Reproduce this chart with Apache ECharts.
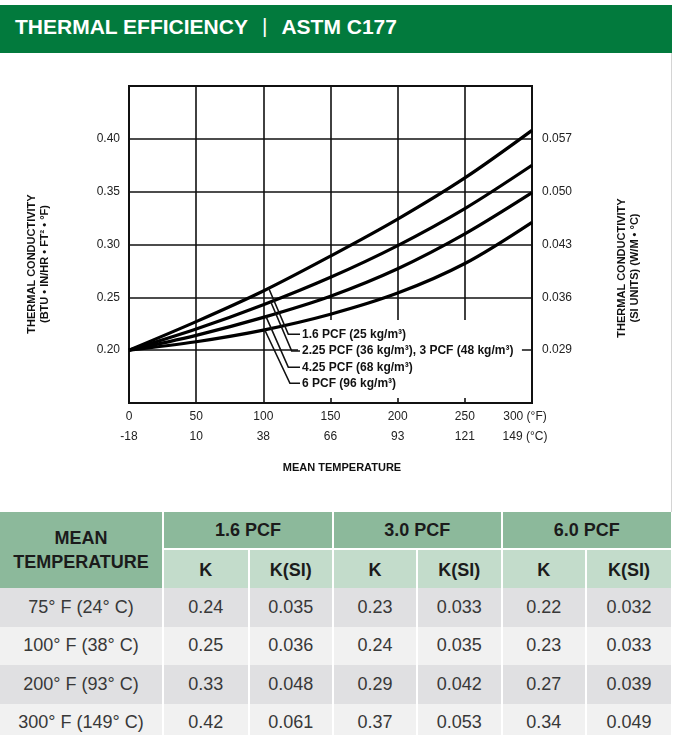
<!DOCTYPE html>
<html>
<head>
<meta charset="utf-8">
<script src="https://cdn.jsdelivr.net/npm/echarts@6/dist/echarts.min.js"></script>
<style>
  html, body { margin:0; padding:0; background:#fff; }
  body { width:678px; height:735px; position:relative; overflow:hidden; font-family:"Liberation Sans", Arial, sans-serif; }
  #chart { position:absolute; left:0; top:0; width:678px; height:510px; }
  #band { position:absolute; left:0; top:5px; width:672px; height:48px; background:#027a3d; }
  #title { position:absolute; left:15px; top:5px; height:44px; line-height:44px; color:#fff; font-size:21px; font-weight:bold; white-space:nowrap; }
  #title .bar { font-weight:normal; margin:0 14px; position:relative; top:-1px; }
  #edge { position:absolute; left:671px; top:53px; width:1px; height:459px; background:#d4d4d4; }
  .cell { position:absolute; box-sizing:border-box; display:flex; align-items:center; justify-content:center; text-align:center; white-space:nowrap; }
  .h1 { background:#8cb99b; color:#1b1b1b; font-weight:bold; font-size:18px; }
  .h2 { background:#c3dccb; color:#1b1b1b; font-weight:bold; font-size:18px; padding-top:3px; }
  .d { color:#383838; font-size:18px; }
</style>
</head>
<body>
<div id="chart"></div>
<div id="band"></div>
<div id="title">THERMAL EFFICIENCY<span class="bar">|</span>ASTM C177</div>
<div id="edge"></div>
<div id="table"></div>
<script>
// ---- chart data ----
const temps = [0, 50, 100, 150, 200, 250, 300];
const k16  = [0.200, 0.227, 0.256, 0.289, 0.324, 0.363, 0.408];
const k30  = [0.200, 0.220, 0.243, 0.269, 0.299, 0.334, 0.375];
const k425 = [0.200, 0.214, 0.231, 0.251, 0.277, 0.310, 0.349];
const k60  = [0.200, 0.208, 0.219, 0.234, 0.254, 0.282, 0.321];
const curveLabels = ['1.6 PCF (25 kg/m³)', '2.25 PCF (36 kg/m³), 3 PCF (48 kg/m³)', '4.25 PCF (68 kg/m³)', '6 PCF (96 kg/m³)'];

// ---- tick labels ----
const xTicksF = [0, 50, 100, 150, 200, 250, 300];
const xTicksC = ['-18', '10', '38', '66', '93', '121', '149'];
const yTicks = [0.20, 0.25, 0.30, 0.35, 0.40];
const yTicksSI = ['0.029', '0.036', '0.043', '0.050', '0.057'];

// ---- table data ----
const tableGroups = ['1.6 PCF', '3.0 PCF', '6.0 PCF'];
const tableTemps = ['75° F (24° C)', '100° F (38° C)', '200° F (93° C)', '300° F (149° C)'];
const tabK16 = ['0.24', '0.25', '0.33', '0.42'];
const tabKSI16 = ['0.035', '0.036', '0.048', '0.061'];
const tabK30 = ['0.23', '0.24', '0.29', '0.37'];
const tabKSI30 = ['0.033', '0.035', '0.042', '0.053'];
const tabK60 = ['0.22', '0.23', '0.27', '0.34'];
const tabKSI60 = ['0.032', '0.033', '0.039', '0.049'];

const FONT = '"Liberation Sans", Arial, sans-serif';
const INK = '#111';

function tickIndex(v) { return yTicks.findIndex(t => Math.abs(t - v) < 1e-6); }

const chart = echarts.init(document.getElementById('chart'), null, { renderer: 'canvas' });
const series = [k16, k30, k425, k60].map((arr, i) => ({
  type: 'line',
  name: curveLabels[i],
  data: temps.map((t, j) => [t, arr[j]]),
  smooth: 0.33,
  symbol: 'none',
  lineStyle: { color: '#000', width: 3.2 },
  z: 5,
  silent: true
}));

chart.setOption({
  animation: false,
  grid: { left: 129, top: 86, width: 403, height: 317, show: true, borderColor: INK, borderWidth: 2, backgroundColor: 'transparent' },
  xAxis: {
    type: 'value', min: 0, max: 300, interval: 50,
    axisLine: { show: true, lineStyle: { color: INK, width: 2 } },
    axisTick: { show: false },
    splitLine: { show: true, lineStyle: { color: INK, width: 1.6 } },
    axisLabel: {
      margin: 4, color: '#222', fontSize: 12, fontFamily: FONT, lineHeight: 20,
      formatter: function (v) {
        const i = xTicksF.indexOf(Math.round(v));
        if (i < 0) return '';
        if (i === xTicksF.length - 1) return '{l|' + xTicksF[i] + ' (°F)}\n{l|' + xTicksC[i] + ' (°C)}';
        return xTicksF[i] + '\n' + xTicksC[i];
      },
      rich: { l: { padding: [0, 14, 0, 0], fontSize: 12, color: '#222', fontFamily: FONT, lineHeight: 20 } }
    }
  },
  yAxis: [{
    type: 'value', min: 0.15, max: 0.45, interval: 0.05, position: 'left',
    axisLine: { show: true, lineStyle: { color: INK, width: 2 } },
    axisTick: { show: false },
    splitLine: { show: true, lineStyle: { color: INK, width: 1.6 } },
    axisLabel: {
      margin: 9, color: '#222', fontSize: 12, fontFamily: FONT,
      formatter: v => { const i = tickIndex(v); return i < 0 ? '' : yTicks[i].toFixed(2); }
    }
  }, {
    type: 'value', min: 0.15, max: 0.45, interval: 0.05, position: 'right',
    axisLine: { show: true, lineStyle: { color: INK, width: 2 } },
    axisTick: { show: false },
    splitLine: { show: false },
    axisLabel: {
      margin: 10, color: '#222', fontSize: 12, fontFamily: FONT,
      formatter: v => { const i = tickIndex(v); return i < 0 ? '' : yTicksSI[i]; }
    }
  }],
  series: series
});

// ---- annotations (positions in data space, converted through the axes) ----
function px(t, v) { return chart.convertToPixel({ xAxisIndex: 0, yAxisIndex: 0 }, [t, v]); }
function interp(arr, t) {
  for (let j = 0; j < temps.length - 1; j++) {
    if (t >= temps[j] && t <= temps[j + 1]) {
      const f = (t - temps[j]) / (temps[j + 1] - temps[j]);
      return arr[j] + f * (arr[j + 1] - arr[j]);
    }
  }
  return arr[arr.length - 1];
}
const leaderStartT = [104, 105.5, 102, 101];
const leaderEnd = [[118.6, 0.2150], [121.1, 0.1992], [118.6, 0.1838], [119.8, 0.1687]];
const curves = [k16, k30, k425, k60];
const graphics = [];
const b0 = px(125.8, 0.2286), b1 = px(292.5, 0.1548);
graphics.push({ type: 'rect', z: 1, silent: true,
  shape: { x: b0[0], y: b0[1], width: b1[0] - b0[0], height: b1[1] - b0[1] },
  style: { fill: '#fff' } });
curves.forEach((arr, i) => {
  const s = px(leaderStartT[i], interp(arr, leaderStartT[i]));
  const e = px(leaderEnd[i][0], leaderEnd[i][1]);
  const d = px(127.3, leaderEnd[i][1]);
  const tp = px(128.8, leaderEnd[i][1]);
  graphics.push({ type: 'polyline', z: 6, silent: true,
    shape: { points: [s, e, d] },
    style: { stroke: INK, lineWidth: 1.6, fill: null } });
  graphics.push({ type: 'text', z: 6, silent: true, x: tp[0], y: tp[1],
    style: { text: curveLabels[i], fill: INK, font: 'bold 12px ' + FONT, align: 'left', verticalAlign: 'middle' } });
});
graphics.push({ type: 'text', silent: true, x: 38, y: 264, rotation: Math.PI / 2,
  style: { text: 'THERMAL CONDUCTIVITY\n(BTU • IN/HR • FT² • °F)', fill: INK, font: 'bold 11px ' + FONT, align: 'center', verticalAlign: 'middle', lineHeight: 13 } });
graphics.push({ type: 'text', silent: true, x: 628, y: 268, rotation: Math.PI / 2,
  style: { text: 'THERMAL CONDUCTIVITY\n(SI UNITS) (W/M • °C)', fill: INK, font: 'bold 11px ' + FONT, align: 'center', verticalAlign: 'middle', lineHeight: 13 } });
graphics.push({ type: 'text', silent: true, x: 342, y: 468,
  style: { text: 'MEAN TEMPERATURE', fill: INK, font: 'bold 11px ' + FONT, align: 'center', verticalAlign: 'middle' } });
chart.setOption({ graphic: graphics });

// ---- table ----
const colX = [0, 164, 249.5, 334, 418, 502.5, 587, 671];
const table = document.getElementById('table');
function cell(x0, x1, y0, y1, cls, html, bg, lastCol, bottomGap) {
  const d = document.createElement('div');
  d.className = 'cell ' + cls;
  d.style.left = x0 + 'px';
  d.style.top = y0 + 'px';
  d.style.width = (x1 - x0) + 'px';
  d.style.height = (y1 - y0) + 'px';
  if (!lastCol) d.style.borderRight = '2px solid #fff';
  if (bottomGap) d.style.borderBottom = '2px solid #fff';
  if (bg) d.style.background = bg;
  d.innerHTML = html;
  table.appendChild(d);
}
const H0 = 512, H1 = 550, H2 = 588, RH = 38.5;
cell(colX[0], colX[1], H0, H2, 'h1', '<div style="line-height:24px">MEAN<br>TEMPERATURE</div>', null, false, false);
tableGroups.forEach((g, i) => {
  cell(colX[1 + 2 * i], colX[3 + 2 * i], H0, H1, 'h1', g, null, i === 2, true);
  cell(colX[1 + 2 * i], colX[2 + 2 * i], H1, H2, 'h2', 'K', null, false, false);
  cell(colX[2 + 2 * i], colX[3 + 2 * i], H1, H2, 'h2', 'K(SI)', null, i === 2, false);
});
const cols = [tableTemps, tabK16, tabKSI16, tabK30, tabKSI30, tabK60, tabKSI60];
tableTemps.forEach((_, r) => {
  const y0 = H2 + r * RH, y1 = y0 + RH;
  const bg = r % 2 === 0 ? '#e0e0e2' : '#f1f1f1';
  cols.forEach((c, j) => {
    cell(colX[j], colX[j + 1], y0, y1, 'd', c[r], bg, j === cols.length - 1, false);
  });
});
</script>
</body>
</html>
